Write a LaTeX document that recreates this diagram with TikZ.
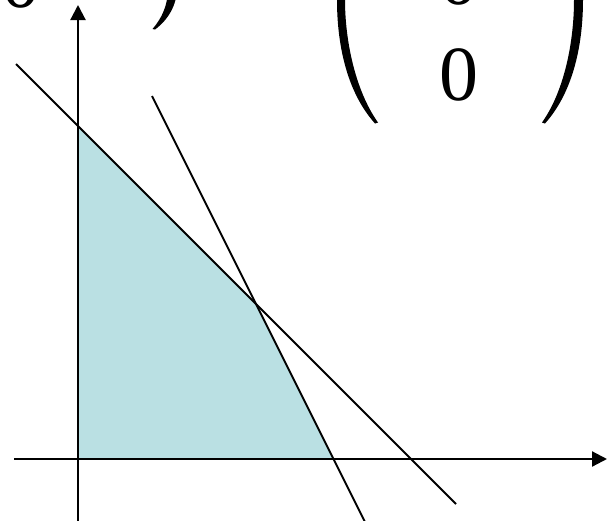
\documentclass[tikz,border=0pt]{standalone}
\usepackage{fontspec}
\setmainfont{Liberation Serif}
\usetikzlibrary{arrows.meta}
\definecolor{feasible}{RGB}{186,224,227}
\tikzset{
  axis/.style={line width=2.2pt,-{Triangle[length=15pt,width=15pt]}},
  constraint/.style={line width=1.8pt},
  digit/.style={anchor=base,inner sep=0pt,font=\fontsize{78}{96}\selectfont},
  paren/.style={fill=black}
}
\begin{document}
\begin{tikzpicture}[x=1pt,y=-1pt]
\clip (0,0) rectangle (611,520);
\fill[white] (0,0) rectangle (611,520);
% feasible region
\coordinate (o) at (78,459);
\coordinate (p) at (78,126);
\coordinate (q) at (256,304);
\coordinate (r) at (333.5,459);
\fill[feasible] (o) -- (p) -- (q) -- (r) -- cycle;
% constraint lines
\coordinate (a1) at (16,64);
\coordinate (a2) at (456,504);
\coordinate (b1) at (152,96);
\coordinate (b2) at (365,522);
\draw[constraint] (a1) -- (a2);
\draw[constraint] (b1) -- (b2);
% axes
\coordinate (xs) at (14,459);
\coordinate (xe) at (607,459);
\coordinate (ys) at (78,521);
\coordinate (ye) at (78,5);
\draw[axis] (xs) -- (xe);
\draw[axis] (ys) -- (ye);
% text fragments
\node[digit] (z0) at (21,7) {0};
\node[digit] (z1) at (459,4) {0};
\node[digit] (z2) at (459,100) {0};
% small right parenthesis
\fill[paren] (177,-12) .. controls (177,5) and (168,20) .. (155,29.5)
  -- (152.5,29) .. controls (162,18) and (168,5) .. (168,-12) -- cycle;
% big left parenthesis
\fill[paren] (337,-20) -- (337,0) .. controls (337,40) and (345,90) .. (375,123.5)
  -- (378,122.5) .. controls (355,90) and (345,40) .. (345,0) -- (345,-20) -- cycle;
% big right parenthesis
\fill[paren] (583,-20) -- (583,0) .. controls (583,40) and (575,90) .. (545,123.5)
  -- (542,122.5) .. controls (565,90) and (574,40) .. (574,0) -- (574,-20) -- cycle;
\end{tikzpicture}
\end{document}
